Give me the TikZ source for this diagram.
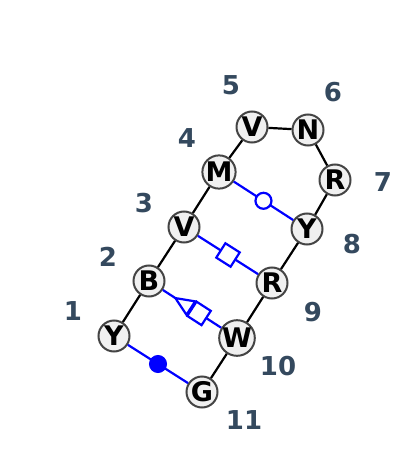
\documentclass[tikz,border=0pt]{standalone}
\usepackage{fontspec}
\setmainfont{DejaVu Sans}
\usetikzlibrary{calc}
\definecolor{nodefill}{HTML}{F0F0F0}
\definecolor{nodeline}{HTML}{444444}
\definecolor{numcol}{HTML}{34495E}
\tikzset{
  res/.style={circle, draw=nodeline, fill=nodefill, line width=2pt, minimum size=31pt, inner sep=0pt, font=\fontsize{27}{27}\selectfont\bfseries},
  num/.style={text=numcol, font=\fontsize{26}{26}\selectfont\bfseries},
  bb/.style={black, line width=2.2pt},
  blueedge/.style={blue, line width=2.2pt},
  sq/.style={rectangle, draw=blue, fill=white, line width=2.2pt, minimum size=17pt, inner sep=0pt, sloped},
  ocirc/.style={circle, draw=blue, fill=white, line width=2.2pt, minimum size=16pt, inner sep=0pt},
  fcirc/.style={circle, draw=blue, fill=blue, line width=1pt, minimum size=17pt, inner sep=0pt},
}
\begin{document}
\begin{tikzpicture}[x=1pt,y=-1pt]
\useasboundingbox (0,0) rectangle (400,470);
% backbone nodes
\node[res] (n1) at (114,336) {Y};
\node[res] (n2) at (149,281) {B};
\node[res] (n3) at (184,227) {V};
\node[res] (n4) at (219,172) {M};
\node[res] (n5) at (252,127) {V};
\node[res] (n6) at (308,130) {N};
\node[res] (n7) at (335,180) {R};
\node[res] (n8) at (307,229) {Y};
\node[res] (n9) at (272,283) {R};
\node[res] (n10) at (237,338) {W};
\node[res] (n11) at (202,392) {G};
% numbers
\node[num] (l1) at (73,311) {1};
\node[num] (l2) at (108,257) {2};
\node[num] (l3) at (144,203) {3};
\node[num] (l4) at (187,138) {4};
\node[num] (l5) at (231,85) {5};
\node[num] (l6) at (333,92) {6};
\node[num] (l7) at (383,182) {7};
\node[num] (l8) at (352,244) {8};
\node[num] (l9) at (313,312) {9};
\node[num] (l10) at (278,366) {10};
\node[num] (l11) at (244,420) {11};
% backbone edges
\draw[bb] (n1) -- (n2);
\draw[bb] (n2) -- (n3);
\draw[bb] (n3) -- (n4);
\draw[bb] (n4) -- (n5);
\draw[bb] (n5) -- (n6);
\draw[bb] (n6) -- (n7);
\draw[bb] (n7) -- (n8);
\draw[bb] (n8) -- (n9);
\draw[bb] (n9) -- (n10);
\draw[bb] (n10) -- (n11);
% blue interactions
\draw[blueedge] (n4) -- (n8) node[pos=0.5, ocirc] (c48) {};
\draw[blueedge] (n1) -- (n11) node[pos=0.5, fcirc] (c111) {};
\draw[blueedge] (n3) -- (n9) node[pos=0.5, sq] (s39) {};
\draw[blueedge] (n2) -- (n10);
\coordinate (tip) at ($(n2)!0.30!(n10)$);
\coordinate (tbase) at ($(n2)!0.475!(n10)$);
\draw[blue, line width=2.2pt, fill=white, line join=miter] (tip) -- ($(tbase)!8pt!90:(n10)$) -- ($(tbase)!8pt!-90:(n10)$) -- cycle;
\path (n2) -- (n10) node[pos=0.62, sq] (s210) {};
\end{tikzpicture}
\end{document}
